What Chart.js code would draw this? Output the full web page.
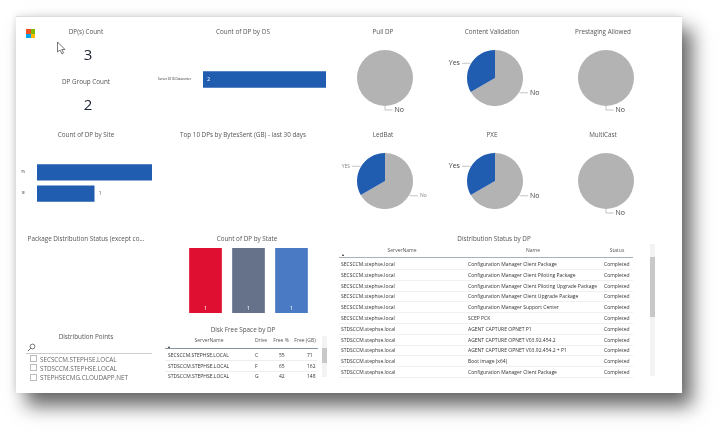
<!DOCTYPE html>
<html>
<head>
<meta charset="utf-8">
<script src="https://cdn.jsdelivr.net/npm/chart.js@4/dist/chart.umd.min.js"></script>
<style>
  html, body { margin: 0; padding: 0; background: #fff; }
  body { width: 722px; height: 434px; overflow: hidden; font-family: "Open Sans", sans-serif; }
  #page { position: absolute; left: 0; top: 0; width: 722px; height: 434px; filter: blur(0.45px); }
  #card { position: absolute; left: 16px; top: 16px; width: 666px; height: 377px; background: #fff;
    border-top: 1px solid #ddd; box-sizing: border-box;
    box-shadow: 10px 13px 18px rgba(0,0,0,.6), 0 -3px 8px rgba(0,0,0,.06), -3px 0 6px rgba(0,0,0,.05); }
  canvas { position: absolute; }
  .title { position: absolute; font-size: 6.3px; color: #555; white-space: nowrap; transform: translate(-50%, -50%); }
  .kpi { position: absolute; font-size: 15px; font-weight: 500; color: #1c2333; transform: translate(-50%, -50%); }
  .cell { position: absolute; font-size: 5px; color: #333; white-space: nowrap; transform: translateY(-50%); }
  .head { position: absolute; font-size: 5px; color: #555; white-space: nowrap; transform: translate(-50%, -50%); }
  .line { position: absolute; }
  .slicer { position: absolute; font-size: 6.3px; color: #666; white-space: nowrap; transform: translateY(-50%); }
  .box { position: absolute; width: 5px; height: 5px; border: 1px solid #bbb; background: #fff; }
  .logo { position: absolute; width: 4.5px; height: 4.5px; }
</style>
</head>
<body>
<div id="page">
<div id="card"></div>
<div class="logo" style="left:26px;top:29px;background:#f25022"></div>
<div class="logo" style="left:30.5px;top:29px;background:#7fba00"></div>
<div class="logo" style="left:26px;top:33.5px;background:#00a4ef"></div>
<div class="logo" style="left:30.5px;top:33.5px;background:#ffb900"></div>
<svg style="position:absolute;left:56px;top:41px" width="11" height="14"><path d="M1.5 1 L1.5 11 L4 9 L6 13 L7.5 12 L5.8 8.5 L9 8.5 Z" fill="#fff" stroke="#555" stroke-width=".8"/></svg>
<svg style="position:absolute;left:27px;top:343px" width="9" height="9"><circle cx="5.5" cy="3.5" r="2.4" fill="none" stroke="#555" stroke-width=".8"/><path d="M3.8 5.2 L1 8" stroke="#555" stroke-width=".9"/></svg>

<canvas id="osChart" width="195" height="37" style="left:140px;top:61px"></canvas>
<canvas id="siteChart" width="140" height="54" style="left:20px;top:156px"></canvas>
<canvas id="stateChart" width="129" height="75" style="left:184px;top:248px"></canvas>
<canvas id="pie1" width="110" height="76" style="left:330px;top:40px"></canvas>
<canvas id="pie2" width="110" height="76" style="left:440px;top:40px"></canvas>
<canvas id="pie3" width="110" height="76" style="left:551px;top:40px"></canvas>
<canvas id="pie4" width="110" height="76" style="left:330px;top:143px"></canvas>
<canvas id="pie5" width="110" height="76" style="left:440px;top:143px"></canvas>
<canvas id="pie6" width="110" height="76" style="left:551px;top:143px"></canvas>
</div>

<script>
// グラフの値
const osLabels = ['Server 2016 Datacenter'];
const osCounts = [2];
const siteLabels = ['PS', 'SE'];
const siteCounts = [2, 1];
const stateLabels = ['Failed', 'Healthy', 'In Progress'];
const stateCounts = [1, 1, 1];
const stateColors = ['#de0f30', '#66728a', '#4b7ac4'];

const pieLabels = ['No', 'Yes'];
const ledbatLabels = ['No', 'YES'];
const pullDpCounts = [3, 0];
const contentValidationCounts = [2, 1];
const prestagingCounts = [3, 0];
const ledbatCounts = [2, 1];
const pxeCounts = [2, 1];
const multicastCounts = [3, 0];

const dpCount = 3;
const dpGroupCount = 2;

const diskServers = ['SECSCCM.STEPHSE.LOCAL', 'STDSCCM.STEPHSE.LOCAL', 'STDSCCM.STEPHSE.LOCAL'];
const diskDrives = ['C', 'F', 'G'];
const diskFreePct = [55, 65, 42];
const diskFreeGb = [71, 162, 148];

const statusServers = ['SECSCCM.stephse.local', 'SECSCCM.stephse.local', 'SECSCCM.stephse.local', 'SECSCCM.stephse.local',
  'SECSCCM.stephse.local', 'SECSCCM.stephse.local', 'STDSCCM.stephse.local', 'STDSCCM.stephse.local',
  'STDSCCM.stephse.local', 'STDSCCM.stephse.local', 'STDSCCM.stephse.local'];
const statusNames = ['Configuration Manager Client Package', 'Configuration Manager Client Piloting Package',
  'Configuration Manager Client Piloting Upgrade Package', 'Configuration Manager Client Upgrade Package',
  'Configuration Manager Support Center', 'SCEP PCK', 'AGENT CAPTURE OPNET P1', 'AGENT CAPTURE OPNET V03.92.454.2',
  'AGENT CAPTURE OPNET V03.92.454.2 + P1', 'Boot image (x64)', 'Configuration Manager Client Package'];
const statusValues = statusNames.map(() => 'Completed');

const slicerItems = ['SECSCCM.STEPHSE.LOCAL', 'STDSCCM.STEPHSE.LOCAL', 'STEPHSECMG.CLOUDAPP.NET'];

const BLUE = '#205cb0';
const GREY = '#b3b3b3';

const page = document.getElementById('page');

function addDiv(cls, text, left, top, css) {
  const el = document.createElement('div');
  el.className = cls;
  el.textContent = text;
  el.style.left = left + 'px';
  el.style.top = top + 'px';
  if (css) el.style.cssText += css;
  page.appendChild(el);
  return el;
}

function addLine(left, top, width, height, color) {
  const el = addDiv('line', '', left, top);
  el.style.width = width + 'px';
  el.style.height = height + 'px';
  el.style.background = color;
}

// タイトル類
[
  ['DP(s) Count', 86, 31], ['DP Group Count', 86, 81], ['Count of DP by Site', 86, 134],
  ['Count of DP by OS', 243, 31], ['Top 10 DPs by BytesSent (GB) - last 30 days', 243, 134],
  ['Pull DP', 383, 31], ['Content Validation', 492, 31], ['Prestaging Allowed', 603, 31],
  ['LedBat', 383, 134], ['PXE', 492, 134], ['MultiCast', 603, 134],
  ['Package Distribution Status (except co...', 86, 238], ['Count of DP by State', 247, 238],
  ['Disk Free Space by DP', 243, 329], ['Distribution Status by DP', 494, 238],
  ['Distribution Points', 86, 336],
].forEach(([text, x, y]) => addDiv('title', text, x, y));

addDiv('kpi', dpCount, 88, 54);
addDiv('kpi', dpGroupCount, 88, 104);

// スライサー
addLine(26, 353, 126, 1, '#ccc');
slicerItems.forEach((item, i) => {
  addDiv('box', '', 30, 355 + i * 9.4);
  addDiv('slicer', item, 40, 358.5 + i * 9.4);
});

// Disk Free Space テーブル
[['ServerName', 209], ['Drive', 261], ['Free %', 281], ['Free (GB)', 305]].forEach(([t, x]) => addDiv('head', t, x, 340));
addDiv('head', '\u25B2', 169, 346, 'font-size:3.5px;color:#222');
addLine(165, 348, 153, 1, '#8a93a0');
diskServers.forEach((server, i) => {
  const y = 355 + i * 10.6;
  addDiv('cell', server, 168, y);
  addDiv('cell', diskDrives[i], 255, y);
  addDiv('cell', diskFreePct[i], 279, y);
  addDiv('cell', diskFreeGb[i], 307, y);
  if (i < 2) addLine(165, y + 5, 153, 1, '#eee');
});
addLine(322, 336, 5, 41, '#f3f3f3');
addLine(322, 348, 5, 15, '#c8c8c8');

// Distribution Status テーブル
[['ServerName', 402], ['Name', 533], ['Status', 617]].forEach(([t, x]) => addDiv('head', t, x, 249.5));
addDiv('head', '\u25B2', 343, 254, 'font-size:3.5px;color:#222');
addLine(339, 257, 294, 1, '#aab0b8');
statusServers.forEach((server, i) => {
  const y = 264 + i * 10.8;
  addDiv('cell', server, 341, y);
  addDiv('cell', statusNames[i], 468, y);
  addDiv('cell', statusValues[i], 604, y);
  addLine(339, y + 5, 294, 1, '#f0f0f0');
});
addLine(650, 244, 5, 132, '#f3f3f3');
addLine(650, 257, 5, 60, '#c8c8c8');

// 棒の値ラベル: 収まらない棒は内側に白で描く
const valueLabelPlugin = {
  id: 'valueLabels',
  afterDatasetsDraw(chart, args, opts) {
    const { ctx } = chart;
    const meta = chart.getDatasetMeta(0);
    ctx.save();
    ctx.font = '5.5px "Open Sans"';
    ctx.textBaseline = 'middle';
    meta.data.forEach((bar, i) => {
      const value = chart.data.datasets[0].data[i];
      if (opts.mode === 'column') {
        ctx.fillStyle = '#fff';
        ctx.textAlign = 'center';
        ctx.fillText(value, bar.x, bar.base - 5);
      } else if (value === opts.max) {
        if (opts.inside) {
          ctx.fillStyle = '#fff';
          ctx.textAlign = 'left';
          ctx.fillText(value, bar.base + 4, bar.y);
        }
      } else {
        ctx.fillStyle = '#666';
        ctx.textAlign = 'left';
        ctx.fillText(value, bar.x + 4, bar.y);
      }
    });
    ctx.restore();
  },
};

// 円グラフの引き出し線とラベル
const pieLabelPlugin = {
  id: 'pieLabels',
  afterDatasetsDraw(chart, args, opts) {
    const { ctx } = chart;
    const values = chart.data.datasets[0].data;
    ctx.save();
    ctx.font = opts.size + 'px "Open Sans"';
    ctx.textBaseline = 'middle';
    ctx.strokeStyle = '#aaa';
    ctx.lineWidth = 0.7;
    chart.getDatasetMeta(0).data.forEach((arc, i) => {
      if (!values[i]) return;
      const p = arc.getProps(['x', 'y', 'startAngle', 'endAngle', 'outerRadius'], true);
      const mid = (p.startAngle + p.endAngle) / 2;
      const x0 = p.x + Math.cos(mid) * p.outerRadius;
      const y0 = p.y + Math.sin(mid) * p.outerRadius;
      const full = values.filter(Boolean).length === 1;
      const dir = Math.cos(mid) < -0.01 ? -1 : 1;
      const y1 = full ? y0 + 4 : y0 + Math.sin(mid) * 1.5;
      const x1 = full ? x0 : x0 + Math.cos(mid) * 1.5;
      const x2 = x1 + dir * 7.5;
      ctx.beginPath();
      ctx.moveTo(x0, y0);
      ctx.lineTo(x1, y1);
      ctx.lineTo(x2, y1);
      ctx.stroke();
      ctx.fillStyle = opts.color;
      ctx.textAlign = dir < 0 ? 'right' : 'left';
      ctx.fillText(chart.data.labels[i], x2 + dir * 2, y1);
    });
    ctx.restore();
  },
};

const baseOptions = {
  responsive: false,
  animation: false,
  devicePixelRatio: 1,
  plugins: { legend: { display: false }, tooltip: { enabled: false } },
};

function tickFont(size) {
  return { family: '"Open Sans"', size };
}

function renderHorizontalBar(id, labels, data, axisWidth, rightPad, barPct, inside) {
  new Chart(document.getElementById(id), {
    type: 'bar',
    data: { labels, datasets: [{ data, backgroundColor: BLUE, barPercentage: barPct, categoryPercentage: 1 }] },
    plugins: [valueLabelPlugin],
    options: {
      ...baseOptions,
      indexAxis: 'y',
      layout: { autoPadding: false, padding: { left: 0, right: rightPad, top: 0, bottom: 0 } },
      plugins: { ...baseOptions.plugins, valueLabels: { max: 2, inside } },
      scales: {
        x: { display: false, min: 0, max: 2 },
        y: {
          grid: { display: false }, border: { display: false },
          afterFit(axis) { axis.width = axisWidth; },
          ticks: { font: tickFont(3), color: '#222', padding: 4, autoSkip: false },
        },
      },
    },
  });
}

renderHorizontalBar('osChart', osLabels, osCounts, 63, 9, 0.65, true);
renderHorizontalBar('siteChart', siteLabels, siteCounts, 17, 8, 0.77, false);

new Chart(document.getElementById('stateChart'), {
  type: 'bar',
  data: {
    labels: stateLabels,
    datasets: [{ data: stateCounts, backgroundColor: stateColors, barPercentage: 0.76, categoryPercentage: 1 }],
  },
  plugins: [valueLabelPlugin],
  options: {
    ...baseOptions,
    layout: { padding: 0 },
    plugins: { ...baseOptions.plugins, valueLabels: { mode: 'column' } },
    scales: {
      y: { display: false, min: 0, max: 1 },
      x: {
        grid: { display: false }, border: { display: false },
        afterFit(axis) { axis.height = 10; },
        ticks: { font: tickFont(3), color: '#222', padding: 2, maxRotation: 0, autoSkip: false },
      },
    },
  },
});

function renderPie(id, labels, data, labelStyle) {
  new Chart(document.getElementById(id), {
    type: 'pie',
    data: {
      labels,
      datasets: [{ data, backgroundColor: [GREY, BLUE], borderWidth: 0, radius: 28 }],
    },
    plugins: [pieLabelPlugin],
    options: {
      ...baseOptions,
      plugins: { ...baseOptions.plugins, pieLabels: labelStyle },
    },
  });
}

const normalLabel = { size: 7, color: '#444' };
renderPie('pie1', pieLabels, pullDpCounts, normalLabel);
renderPie('pie2', pieLabels, contentValidationCounts, normalLabel);
renderPie('pie3', pieLabels, prestagingCounts, normalLabel);
renderPie('pie4', ledbatLabels, ledbatCounts, { size: 5, color: '#888' });
renderPie('pie5', pieLabels, pxeCounts, normalLabel);
renderPie('pie6', pieLabels, multicastCounts, normalLabel);
</script>
</body>
</html>
